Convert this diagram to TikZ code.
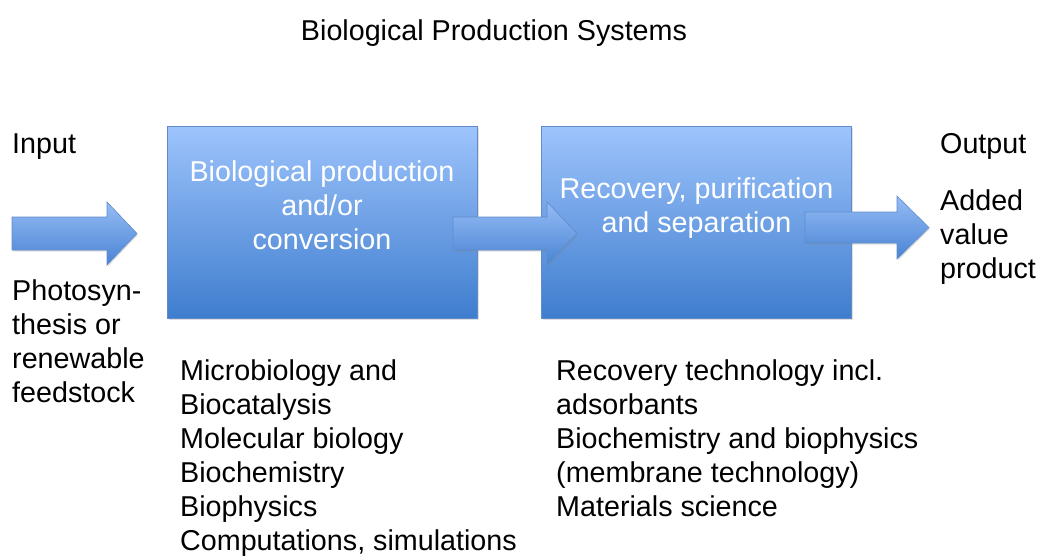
\documentclass[tikz,border=0pt]{standalone}
\usepackage{fontspec}
\setmainfont{Liberation Sans}
\usetikzlibrary{shadows,positioning}
\definecolor{boxtop}{RGB}{158,196,252}
\definecolor{boxbot}{RGB}{62,125,206}
\definecolor{boxedge}{RGB}{96,140,200}
\definecolor{arrtop}{RGB}{150,188,245}
\definecolor{arrbot}{RGB}{72,132,212}
\definecolor{txt}{RGB}{0,0,0}
\tikzset{
  bigfont/.style={font=\fontsize{28.7}{34}\selectfont},
  box/.style={draw=boxedge, line width=0.8pt, top color=boxtop, bottom color=boxbot,
    minimum width=310pt, minimum height=192pt, inner sep=0pt,
    drop shadow={opacity=0.25, shadow xshift=1.5pt, shadow yshift=-2pt}},
  boxtext/.style={bigfont, text=white, align=center, inner sep=0pt},
  plain/.style={bigfont, text=txt, align=left, inner sep=0pt},
  blockarrow/.style={draw=boxedge, line width=0.6pt, top color=arrtop, bottom color=arrbot,
    drop shadow={opacity=0.25, shadow xshift=1pt, shadow yshift=-1.5pt}}
}
\begin{document}
\begin{tikzpicture}[x=1pt,y=-1pt]
\useasboundingbox (0,0) rectangle (1041,555);
% title
\node[plain, anchor=base] (title) at (494,40) {Biological Production Systems};
% boxes
\node[box] (b1) at (322,222) {};
\node[box] (b2) at (696.5,222) {};
% (base anchor = baseline of the last line)
\node[boxtext, anchor=base] (b1t) at (322,249) {Biological production\\and/or\\conversion};
\node[boxtext, anchor=base] (b2t) at (696.5,232) {Recovery, purification\\and separation};
% side texts
\node[plain, anchor=base west] (in) at (12,153) {Input};
\node[plain, anchor=base west] (insrc) at (12,402) {Photosyn-\\thesis or\\renewable\\feedstock};
\node[plain, anchor=base west] (out) at (940,153) {Output};
\node[plain, anchor=base west] (outp) at (940,278) {Added\\value\\product};
% bottom lists
\node[plain, anchor=base west] (l1) at (180,550) {Microbiology and\\Biocatalysis\\Molecular biology\\Biochemistry\\Biophysics\\Computations, simulations};
\node[plain, anchor=base west] (l2) at (556,516) {Recovery technology incl.\\adsorbants\\Biochemistry and biophysics\\(membrane technology)\\Materials science};
% block arrows
\coordinate (a1) at (12,233.5);
\coordinate (a2) at (453,233.5);
\coordinate (a3) at (805,227.5);
\draw[blockarrow] (a1) ++(0,-16.5) -- ++(95,0) -- ++(0,-15) -- ++(30,31.5) -- ++(-30,31.5) -- ++(0,-15) -- ++(-95,0) -- cycle;
\draw[blockarrow] (a2) ++(0,-16.5) -- ++(94,0) -- ++(0,-15) -- ++(30,31.5) -- ++(-30,31.5) -- ++(0,-15) -- ++(-94,0) -- cycle;
\draw[blockarrow] (a3) ++(0,-15.5) -- ++(92,0) -- ++(0,-16) -- ++(32,31.5) -- ++(-32,31.5) -- ++(0,-16) -- ++(-92,0) -- cycle;
\end{tikzpicture}
\end{document}
